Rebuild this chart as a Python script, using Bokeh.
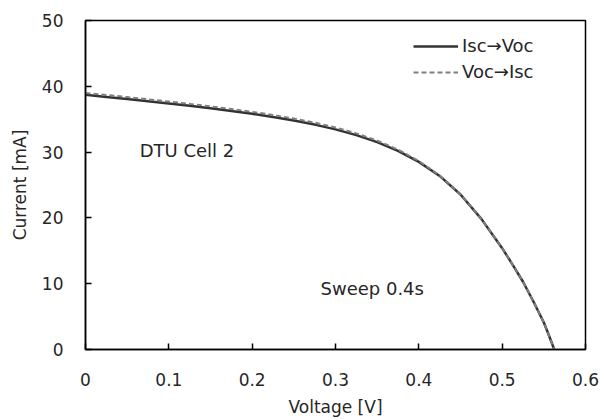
from bokeh.plotting import figure
from bokeh.models import Range1d, FixedTicker, Legend, LegendItem, ColumnDataSource
from bokeh.core.properties import value
from bokeh.embed import file_html
from bokeh.resources import INLINE

# Data
voltage = [0.0, 0.025, 0.05, 0.075, 0.1, 0.125, 0.15, 0.175, 0.2, 0.225, 0.25, 0.275,
           0.3, 0.325, 0.35, 0.375, 0.4, 0.425, 0.45, 0.475, 0.5, 0.5125, 0.525, 0.5375,
           0.55, 0.5563, 0.5625]
isc_to_voc = [38.70, 38.38, 38.06, 37.73, 37.38, 37.03, 36.65, 36.25, 35.82, 35.34, 34.80, 34.18,
              33.45, 32.58, 31.51, 30.18, 28.51, 26.38, 23.55, 19.85, 15.4, 12.9, 10.3, 7.3,
              4.1, 2.1, 0.0]
voc_to_isc = [39.00, 38.68, 38.36, 38.03, 37.68, 37.33, 36.95, 36.55, 36.12, 35.64, 35.10, 34.48,
              33.75, 32.85, 31.75, 30.38, 28.65, 26.45, 23.58, 19.85, 15.4, 12.9, 10.3, 7.3,
              4.1, 2.1, 0.0]

series_names = ["Isc\u2192Voc", "Voc\u2192Isc"]
x_ticks = [0, 0.1, 0.2, 0.3, 0.4, 0.5, 0.6]
y_ticks = [0, 10, 20, 30, 40, 50]

annot_x = [0.065, 0.282]
annot_y = [30.2, 9.3]
annot_text = ["DTU Cell 2", "Sweep 0.4s"]

FONT = "DejaVu Sans"
TXT = "#262626"

p = figure(width=604, height=420, output_backend="svg", toolbar_location=None,
           x_range=Range1d(0, 0.6), y_range=Range1d(0, 50),
           min_border_left=85, min_border_right=19, min_border_top=20, min_border_bottom=71)

p.xgrid.visible = False
p.ygrid.visible = False
p.outline_line_color = "black"
p.outline_line_width = 1.5
p.outline_line_alpha = 1.0

for ax in (p.xaxis[0], p.yaxis[0]):
    ax.axis_line_color = "black"
    ax.axis_line_width = 1.5
    ax.major_tick_line_color = "black"
    ax.major_tick_line_width = 1.5
    ax.major_tick_in = 6
    ax.major_tick_out = 0
    ax.minor_tick_line_color = None
    ax.major_label_text_font = FONT
    ax.major_label_text_font_size = "17px"
    ax.major_label_text_color = TXT
    ax.axis_label_text_font = FONT
    ax.axis_label_text_font_size = "17px"
    ax.axis_label_text_font_style = "normal"
    ax.axis_label_text_color = TXT

p.xaxis.ticker = FixedTicker(ticks=x_ticks)
p.yaxis.ticker = FixedTicker(ticks=y_ticks)
p.xaxis.major_label_overrides = {0: "0", 0.6: "0.6"}
p.xaxis.axis_label = "Voltage [V]"
p.yaxis.axis_label = "Current [mA]"
p.xaxis.major_label_standoff = 23
p.xaxis.axis_label_standoff = 8
p.yaxis.major_label_standoff = 22
p.yaxis.axis_label_standoff = 9

src = ColumnDataSource(dict(v=voltage, a=isc_to_voc, b=voc_to_isc))
r1 = p.line("v", "a", source=src, line_color="#333333", line_width=2.5, line_join="round")
r2 = p.line("v", "b", source=src, line_color="#7f7f7f", line_width=2, line_dash="5 3")

p.text(x=annot_x, y=annot_y, text=annot_text, text_font=value(FONT), text_font_size="18px",
       text_color=TXT, text_baseline="middle", text_align="left")

legend = Legend(items=[LegendItem(label=series_names[0], renderers=[r1]),
                       LegendItem(label=series_names[1], renderers=[r2])],
                location=(328, 267), padding=0, margin=0, spacing=5,
                glyph_width=45, glyph_height=20, label_height=20, label_standoff=4,
                label_text_font=FONT, label_text_font_size="18px", label_text_color=TXT,
                border_line_color=None, background_fill_alpha=0)
p.add_layout(legend)

open("out.html", "w").write(file_html(p, INLINE))
